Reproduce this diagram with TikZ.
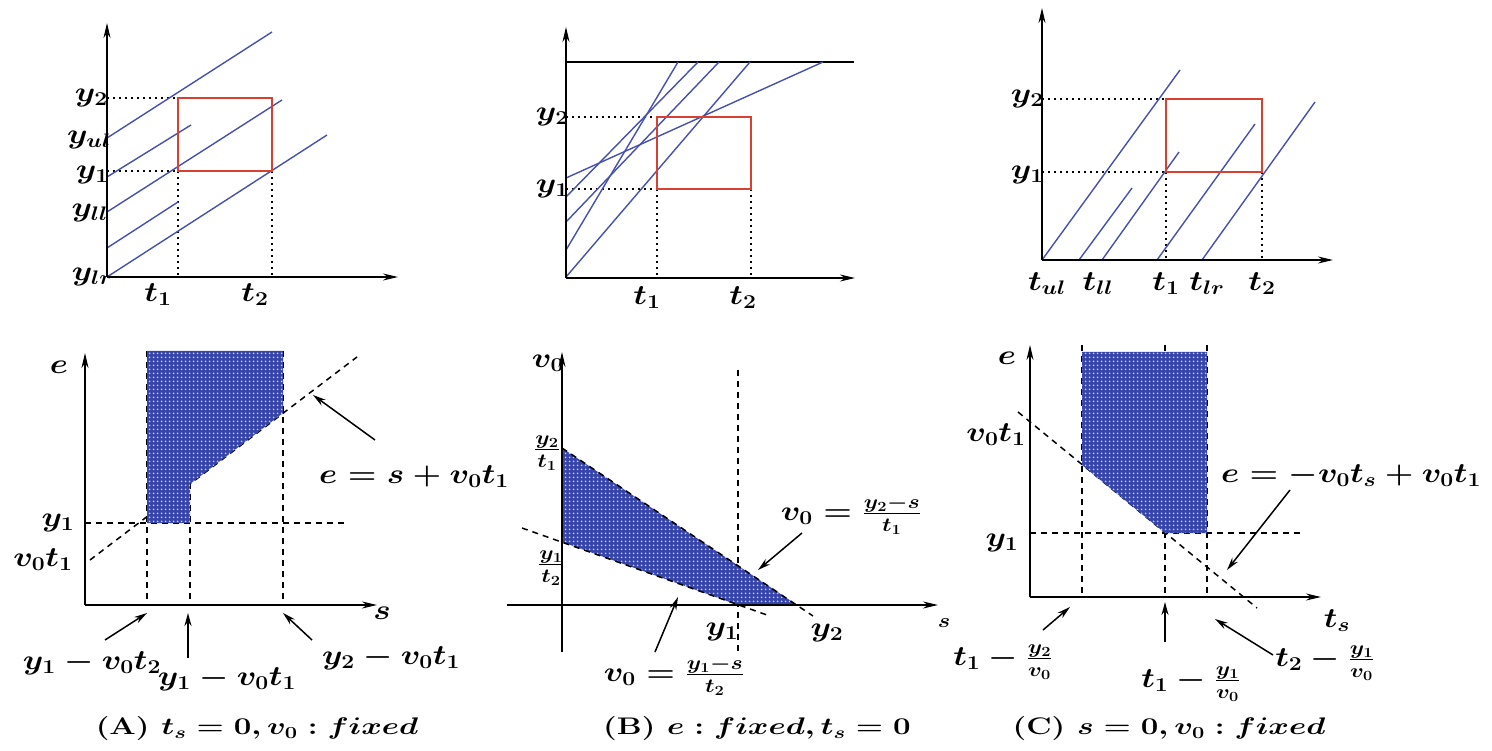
\documentclass[tikz,border=0pt]{standalone}
\usepackage{fix-cm}
\usepackage{amsmath}
\usepackage{graphicx}
\usetikzlibrary{arrows.meta,patterns.meta}

\definecolor{trajblue}{RGB}{70,80,175}
\definecolor{boxred}{RGB}{215,65,50}
\definecolor{regionblue}{RGB}{55,68,170}
\definecolor{dotblue}{RGB}{195,210,250}

% wide bold lettering of the labels
\newcommand{\wlbl}[1]{\scalebox{1.17}[1]{#1}}
\newcommand{\wcap}[1]{\scalebox{1.3}[1]{#1}}

\pgfdeclarepattern{
  name=regiondots,
  type=uncolored,
  bottom left={\pgfpoint{0pt}{0pt}},
  top right={\pgfpoint{4pt}{4pt}},
  tile size={\pgfpoint{4pt}{4pt}},
  code={\pgfpathcircle{\pgfpoint{2pt}{2pt}}{1.15pt}\pgfusepath{fill}}
}

\begin{document}
\begin{tikzpicture}[x=1pt,y=-1pt,
    axis/.style={line width=1.8pt,-{Stealth[length=15pt,width=7pt]}},
    traj/.style={line width=1.4pt,trajblue},
    box/.style={line width=2.6pt,boxred},
    guide/.style={line width=2pt,dash pattern=on 2pt off 4pt},
    aux/.style={line width=1.5pt,dash pattern=on 6pt off 5pt},
    ptr/.style={line width=1.5pt,-{Stealth[length=13pt,width=7pt]}},
    region/.style={fill=regionblue,postaction={pattern=regiondots,pattern color=dotblue}},
    lbl/.style={font=\fontsize{28}{32}\selectfont\boldmath,inner sep=0pt},
    small/.style={font=\fontsize{20}{24}\selectfont\boldmath,inner sep=0pt},
    captext/.style={font=\fontsize{24}{28}\selectfont\bfseries\boldmath,inner sep=0pt}]
    \useasboundingbox (0,0) rectangle (1492,751);

    % Panel A, top
    \node[lbl,anchor=east] (Ay2) at (108,98) {\wlbl{$y_2$}};
    \node[lbl,anchor=east] (Ayul) at (111,140) {\wlbl{$y_{ul}$}};
    \node[lbl,anchor=east] (Ay1) at (109,175) {\wlbl{$y_1$}};
    \node[lbl,anchor=east] (Ayll) at (108,213) {\wlbl{$y_{ll}$}};
    \node[lbl,anchor=east] (Aylr) at (113,277) {\wlbl{$y_{lr}$}};
    \node[lbl] (At1) at (158,295) {\wlbl{$t_1$}};
    \node[lbl] (At2) at (255,295) {\wlbl{$t_2$}};
    \draw[guide] (107,98) -- (178,98);
    \draw[guide] (107,171) -- (178,171);
    \draw[guide] (178,171) -- (178,277);
    \draw[guide] (272,171) -- (272,277);
    \draw[traj] (107,138) -- (272,32);
    \draw[traj] (107,177) -- (191,125);
    \draw[traj] (107,212) -- (282,100);
    \draw[traj] (107,248) -- (178,202);
    \draw[traj] (107,277) -- (327,135);
    \draw[box] (178,98) rectangle (272,171);
    \draw[axis] (107,277) -- (107,23);
    \draw[axis] (107,277) -- (398,277);

    % Panel B, top
    \node[lbl,anchor=east] (By2) at (569,117) {\wlbl{$y_2$}};
    \node[lbl,anchor=east] (By1) at (569,189) {\wlbl{$y_1$}};
    \node[lbl] (Bt1) at (647,298) {\wlbl{$t_1$}};
    \node[lbl] (Bt2) at (743,298) {\wlbl{$t_2$}};
    \draw[line width=1.6pt] (566,62) -- (854,62);
    \draw[guide] (566,117) -- (657,117);
    \draw[guide] (566,189) -- (657,189);
    \draw[guide] (657,189) -- (657,278);
    \draw[guide] (751,189) -- (751,278);
    \draw[traj] (566,277) -- (750,62);
    \draw[traj] (566,250) -- (678,62);
    \draw[traj] (566,222) -- (719,62);
    \draw[traj] (566,197) -- (698,62);
    \draw[traj] (566,178) -- (823,62);
    \draw[box] (657,117) rectangle (751,189);
    \draw[axis] (566,278) -- (566,27);
    \draw[axis] (566,278) -- (855,278);

    % Panel C, top
    \node[lbl,anchor=east] (Cy2) at (1044,99) {\wlbl{$y_2$}};
    \node[lbl,anchor=east] (Cy1) at (1044,175) {\wlbl{$y_1$}};
    \node[lbl] (Ctul) at (1047,284) {\wlbl{$t_{ul}$}};
    \node[lbl] (Ctll) at (1098,284) {\wlbl{$t_{ll}$}};
    \node[lbl] (Ct1) at (1166,284) {\wlbl{$t_1$}};
    \node[lbl] (Ctlr) at (1207,284) {\wlbl{$t_{lr}$}};
    \node[lbl] (Ct2) at (1262,284) {\wlbl{$t_2$}};
    \draw[guide] (1042,99) -- (1166,99);
    \draw[guide] (1042,172) -- (1166,172);
    \draw[guide] (1166,172) -- (1166,260);
    \draw[guide] (1262,172) -- (1262,260);
    \draw[traj] (1042,260) -- (1180,70);
    \draw[traj] (1079,260) -- (1132,188);
    \draw[traj] (1102,260) -- (1179,152);
    \draw[traj] (1157,260) -- (1255,124);
    \draw[traj] (1202,260) -- (1315,102);
    \draw[box] (1166,99) rectangle (1262,172);
    \draw[axis] (1042,260) -- (1042,8);
    \draw[axis] (1042,260) -- (1333,260);

    % Panel A, bottom
    \draw[aux] (85,523) -- (347,523);
    \draw[aux] (147,351) -- (147,605);
    \draw[aux] (190,351) -- (190,605);
    \draw[aux] (283,351) -- (283,605);
    \draw[aux] (90,560) -- (357,357);
    \path[region] (147,351) -- (283,351) -- (283,413) -- (190,484) -- (190,523) -- (147,523) -- cycle;
    \draw[axis] (85,605) -- (85,353);
    \draw[axis] (85,605) -- (377,605);
    \node[lbl] (Ae) at (59,367) {\wlbl{$e$}};
    \node[lbl] (As) at (382,613) {\wlbl{$s$}};
    \node[lbl] (Ay1b) at (58,523) {\wlbl{$y_1$}};
    \node[lbl] (Av0t1) at (43,560) {\wlbl{$v_0t_1$}};
    \node[lbl] (Aeq) at (414,477) {\wlbl{$e = s + v_0t_1$}};
    \node[lbl] (Alo) at (92,663) {\wlbl{$y_1 - v_0t_2$}};
    \node[lbl] (Amid) at (227,679) {\wlbl{$y_1 - v_0t_1$}};
    \node[lbl] (Ahi) at (391,658) {\wlbl{$y_2 - v_0t_1$}};
    \coordinate (Aeq tail) at (375,440);
    \coordinate (Aeq tip) at (313,395);
    \coordinate (Alo tail) at (105,640);
    \coordinate (Alo tip) at (147,613);
    \coordinate (Amid tail) at (188,658);
    \coordinate (Amid tip) at (188,613);
    \coordinate (Ahi tail) at (312,640);
    \coordinate (Ahi tip) at (283,613);
    \draw[ptr] (Aeq tail) -- (Aeq tip);
    \draw[ptr] (Alo tail) -- (Alo tip);
    \draw[ptr] (Amid tail) -- (Amid tip);
    \draw[ptr] (Ahi tail) -- (Ahi tip);

    % Panel B, bottom
    \draw[aux] (738,370) -- (738,655);
    \path[region] (562,448) -- (797,605) -- (738,605) -- (562,542) -- cycle;
    \draw[aux] (562,448) -- (813,616);
    \draw[aux] (522,528) -- (767,615);
    \draw[axis] (562,652) -- (562,352);
    \draw[axis] (507,605) -- (938,605);
    \node[lbl] (Bv0) at (548,363) {\wlbl{$v_0$}};
    \node[small] (Bs) at (944,623) {\wlbl{$s$}};
    \node[lbl] (Bup) at (547,453) {\wlbl{$\frac{y_2}{t_1}$}};
    \node[lbl] (Blow) at (551,568) {\wlbl{$\frac{y_1}{t_2}$}};
    \node[lbl] (By1b) at (722,632) {\wlbl{$y_1$}};
    \node[lbl] (By2b) at (827,633) {\wlbl{$y_2$}};
    \node[lbl] (Beqhi) at (851,515) {\wlbl{$v_0 = \frac{y_2-s}{t_1}$}};
    \node[lbl] (Beqlo) at (674,676) {\wlbl{$v_0 = \frac{y_1-s}{t_2}$}};
    \coordinate (Bhi tail) at (802,533);
    \coordinate (Bhi tip) at (758,570);
    \coordinate (Blo tail) at (655,652);
    \coordinate (Blo tip) at (678,597);
    \draw[ptr] (Bhi tail) -- (Bhi tip);
    \draw[ptr] (Blo tail) -- (Blo tip);

    % Panel C, bottom
    \draw[aux] (1030,533) -- (1301,533);
    \draw[aux] (1082,345) -- (1082,597);
    \draw[aux] (1165,345) -- (1165,597);
    \draw[aux] (1207,345) -- (1207,597);
    \draw[aux] (1018,412) -- (1257,608);
    \path[region] (1082,352) -- (1207,352) -- (1207,533) -- (1165,533) -- (1082,465) -- cycle;
    \draw[axis] (1030,597) -- (1030,345);
    \draw[axis] (1030,597) -- (1321,597);
    \node[lbl] (Ce) at (1007,358) {\wlbl{$e$}};
    \node[lbl] (Cts) at (1337,621) {\wlbl{$t_s$}};
    \node[lbl] (Cv0t1) at (996,435) {\wlbl{$v_0t_1$}};
    \node[lbl] (Cy1b) at (1002,543) {\wlbl{$y_1$}};
    \node[lbl] (Ceq) at (1351,476) {\wlbl{$e = -v_0t_s + v_0t_1$}};
    \node[lbl] (Clo) at (1003,662) {\wlbl{$t_1 - \frac{y_2}{v_0}$}};
    \node[lbl] (Cmid) at (1191,684) {\wlbl{$t_1 - \frac{y_1}{v_0}$}};
    \node[lbl] (Chi) at (1325,663) {\wlbl{$t_2 - \frac{y_1}{v_0}$}};
    \coordinate (Ceq tail) at (1290,490);
    \coordinate (Ceq tip) at (1227,570);
    \coordinate (Clo tail) at (1043,630);
    \coordinate (Clo tip) at (1070,607);
    \coordinate (Cmid tail) at (1165,642);
    \coordinate (Cmid tip) at (1165,602);
    \coordinate (Chi tail) at (1273,655);
    \coordinate (Chi tip) at (1215,619);
    \draw[ptr] (Ceq tail) -- (Ceq tip);
    \draw[ptr] (Clo tail) -- (Clo tip);
    \draw[ptr] (Cmid tail) -- (Cmid tip);
    \draw[ptr] (Chi tail) -- (Chi tip);

    % Captions
    \node[captext] (capA) at (257,729) {\wcap{(A) $t_s = 0, v_0 : fixed$}};
    \node[captext] (capB) at (757,729) {\wcap{(B) $e : fixed, t_s = 0$}};
    \node[captext] (capC) at (1169,729) {\wcap{(C) $s = 0, v_0 : fixed$}};
\end{tikzpicture}
\end{document}
